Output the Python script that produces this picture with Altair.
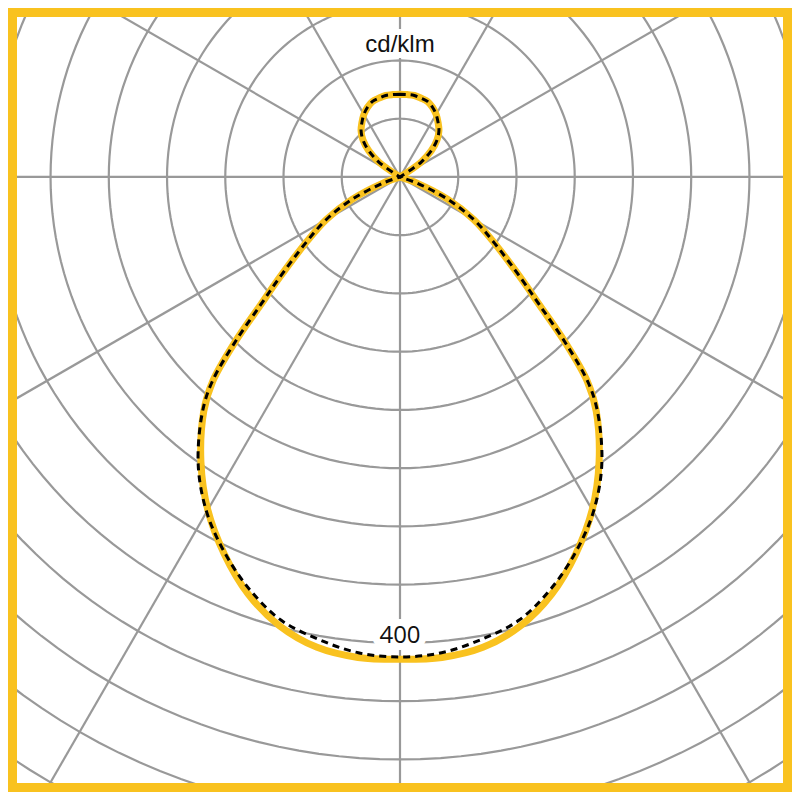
import altair as alt
import numpy as np
import pandas as pd

# ---- data (gamma = angle from nadir, degrees; values in cd/klm)
gamma = [0, 5, 10, 15, 20, 25, 30, 35, 40, 42.5, 45, 47.5, 50, 55, 60, 65, 70, 75,
         80, 85, 90, 95, 100, 105, 110, 115, 120, 125, 130, 135, 140, 145, 150,
         155, 160, 165, 170, 175, 180]
curve_c0 = [414, 414, 410, 399, 381, 357, 330, 298, 262, 238, 200, 162, 136, 99, 73, 45, 16, 0,
            0, 0, 0, 0, 0, 0, 0, 0, 0, 22, 35, 45, 52, 57, 62,
            66, 69, 70, 71, 71, 71]
curve_c90 = [412, 410, 403, 394, 377, 356, 332, 302, 264, 239, 200, 162, 136, 99, 73, 45, 16, 0,
             0, 0, 0, 0, 0, 0, 0, 0, 0, 22, 35, 45, 52, 57, 62,
             66, 69, 70, 71, 71, 71]
ring_values = [50, 100, 150, 200, 250, 300, 350, 400, 450, 500, 550, 600, 650]
ray_angles = [0, 30, 60, 90, 120, 150, 180, 210, 240, 270, 300, 330]
unit_label = "cd/klm"
ring_label = 400

YELLOW = "#F9C21F"
GRID = "#999999"

# ---- tables
rows = []
for name, vals in (("C0-C180", curve_c0), ("C90-C270", curve_c90)):
    seq = 0
    for g, v in zip(gamma[::-1], vals[::-1]):
        rows.append({"series": name, "g": -g, "I": v, "seq": seq}); seq += 1
    for g, v in zip(gamma[1:], vals[1:]):
        rows.append({"series": name, "g": g, "I": v, "seq": seq}); seq += 1
curves = pd.DataFrame(rows)

ring_rows = [{"ring": r, "t": t} for r in ring_values for t in range(0, 362, 2)]
rings = pd.DataFrame(ring_rows)
rays = pd.DataFrame({"a": ray_angles})
lab = pd.DataFrame({"v": [ring_label], "label": [str(ring_label)]})
unit = pd.DataFrame({"label": [unit_label]})

xs = alt.Scale(domain=[-328.8, 328.8], nice=False, zero=False)
ys = alt.Scale(domain=[-520.2, 137.3], nice=False, zero=False)

ring_layer = alt.Chart(rings).transform_calculate(
    x="datum.ring * cos(datum.t * PI / 180)",
    y="datum.ring * sin(datum.t * PI / 180)",
).mark_line(stroke=GRID, strokeWidth=2.2, clip=True).encode(
    x=alt.X("x:Q", scale=xs, axis=None),
    y=alt.Y("y:Q", scale=ys, axis=None),
    detail="ring:N",
    order="t:Q",
)

ray_layer = alt.Chart(rays).transform_calculate(
    x0="0", y0="0",
    x1="900 * sin(datum.a * PI / 180)",
    y1="-900 * cos(datum.a * PI / 180)",
).mark_rule(stroke=GRID, strokeWidth=2.2, clip=True).encode(
    x=alt.X("x0:Q", scale=xs, axis=None),
    y=alt.Y("y0:Q", scale=ys, axis=None),
    x2="x1:Q",
    y2="y1:Q",
)

base_curve = alt.Chart(curves).transform_calculate(
    x="datum.I * sin(datum.g * PI / 180)",
    y="-datum.I * cos(datum.g * PI / 180)",
)
yellow_layer = base_curve.transform_filter(alt.datum.series == "C0-C180").mark_line(
    stroke=YELLOW, strokeWidth=7, strokeJoin="round", strokeCap="round",
    interpolate="catmull-rom", clip=True
).encode(
    x=alt.X("x:Q", scale=xs, axis=None),
    y=alt.Y("y:Q", scale=ys, axis=None),
    order="seq:Q",
)
black_layer = base_curve.transform_filter(alt.datum.series == "C90-C270").mark_line(
    stroke="#000000", strokeWidth=3, strokeDash=[7, 5],
    interpolate="catmull-rom", clip=True
).encode(
    x=alt.X("x:Q", scale=xs, axis=None),
    y=alt.Y("y:Q", scale=ys, axis=None),
    order="seq:Q",
)

lab_base = alt.Chart(lab).transform_calculate(x0="0", y0="-datum.v")
lab_halo = lab_base.mark_text(
    font="Open Sans", fontSize=24, dy=-7,
    fill="white", stroke="white", strokeWidth=14, strokeJoin="round"
).encode(x=alt.X("x0:Q", scale=xs, axis=None), y=alt.Y("y0:Q", scale=ys, axis=None), text="label:N")
lab_text = lab_base.mark_text(
    font="Open Sans", fontSize=24, dy=-7, fill="#111111"
).encode(x=alt.X("x0:Q", scale=xs, axis=None), y=alt.Y("y0:Q", scale=ys, axis=None), text="label:N")

unit_halo = alt.Chart(unit).mark_text(
    font="Liberation Sans", fontSize=24, fill="white", stroke="white",
    strokeWidth=12, strokeJoin="round"
).encode(x=alt.value(383), y=alt.value(28), text="label:N")
unit_text = alt.Chart(unit).mark_text(
    font="Liberation Sans", fontSize=24, fill="#111111"
).encode(x=alt.value(383), y=alt.value(28), text="label:N")

chart = alt.layer(
    ring_layer, ray_layer, lab_halo, unit_halo, yellow_layer, black_layer, lab_text, unit_text
).properties(
    width=766, height=766, padding=9, background=YELLOW
).configure_view(strokeWidth=0, fill="white")

chart.save("out.html", embed_options={"renderer": "svg", "actions": False})
